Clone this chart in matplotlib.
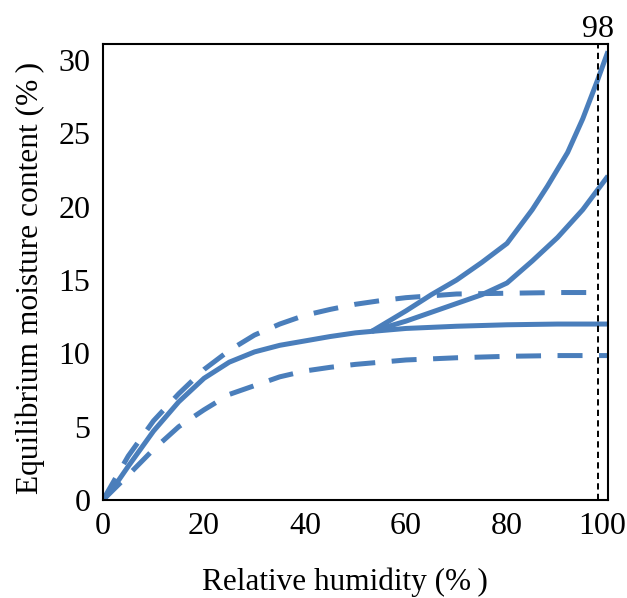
import matplotlib
matplotlib.use("Agg")
import matplotlib.pyplot as plt
import matplotlib.transforms as mtransforms

# Data
rh_mid = [0, 2, 5, 10, 15, 20, 25, 30, 35, 40, 45, 50, 53.2, 60, 70, 80, 90, 100]
emc_mid = [0, 0.8, 2.3, 4.7, 6.7, 8.3, 9.4, 10.1, 10.55, 10.85, 11.15, 11.4, 11.5, 11.7, 11.85, 11.95, 12.0, 12.0]

rh_up_dash = [0, 5, 10, 15, 20, 25, 30, 35, 40, 45, 50, 55, 60, 70, 80, 90, 98]
emc_up_dash = [0, 3.0, 5.4, 7.25, 8.9, 10.2, 11.25, 12.0, 12.6, 13.0, 13.35, 13.6, 13.8, 14.05, 14.1, 14.15, 14.15]

rh_lo_dash = [0, 5, 10, 15, 20, 25, 30, 35, 40, 45, 50, 60, 70, 80, 90, 100]
emc_lo_dash = [0, 1.7, 3.45, 5.0, 6.15, 7.2, 7.8, 8.4, 8.8, 9.05, 9.25, 9.55, 9.7, 9.8, 9.85, 9.85]

rh_rise = [53.2, 60, 65, 70, 75, 80, 85, 88, 92, 95, 98, 100]
emc_rise_high = [11.5, 12.9, 14.0, 15.0, 16.2, 17.5, 19.8, 21.4, 23.7, 26.0, 28.7, 30.6]
rh_rise_low = [53.2, 60, 65, 70, 75, 80, 85, 90, 95, 100]
emc_rise_low = [11.5, 12.2, 12.8, 13.4, 14.0, 14.8, 16.3, 17.9, 19.8, 22.1]

x_ticks = [0, 20, 40, 60, 80, 100]
y_ticks = [0, 5, 10, 15, 20, 25, 30]
marker_rh = 98

plt.rcParams['font.family'] = ['Liberation Serif', 'DejaVu Serif']
color = '#4a7ebb'
lw = 3.6
dash = (5, 3.3)

fig = plt.figure(figsize=(6.27, 5.98), dpi=100)
ax = fig.add_axes([0.1643, 0.1639, 0.9697 - 0.1643, 0.9264 - 0.1639])

ax.plot(rh_mid, emc_mid, color=color, lw=lw, solid_capstyle='butt', solid_joinstyle='round')
ax.plot(rh_rise, emc_rise_high, color=color, lw=lw, solid_capstyle='butt', solid_joinstyle='round')
ax.plot(rh_rise_low, emc_rise_low, color=color, lw=lw, solid_capstyle='butt', solid_joinstyle='round')
ax.plot(rh_up_dash, emc_up_dash, color=color, lw=lw, dashes=dash, dash_capstyle='butt')
ax.plot(rh_lo_dash, emc_lo_dash, color=color, lw=lw, dashes=dash, dash_capstyle='butt')

ax.axvline(marker_rh, color='black', lw=1.4, dashes=(3.2, 2.2))

ax.set_xlim(0, 100)
ax.set_ylim(0, 31.1)
ax.text(marker_rh, 31.1, str(marker_rh), ha='center', va='bottom', fontsize=23)

ax.set_xticks(x_ticks)
ax.set_yticks(y_ticks)
ax.tick_params(length=0, labelsize=23)
ax.tick_params(axis='x', pad=9)
ax.tick_params(axis='y', pad=9)
for s in ax.spines.values():
    s.set_linewidth(1.5)

# shift last x tick label left so it fits inside the figure
last = ax.get_xticklabels()[-1]
last.set_transform(last.get_transform() + mtransforms.ScaledTranslation(-6 / 100, 0, fig.dpi_scale_trans))

ax.set_xlabel('Relative humidity (%\u2009)', fontsize=22.5, labelpad=19)
ax.set_ylabel('Equilibrium moisture content (%\u2009)', fontsize=22.7, labelpad=10)
ax.xaxis.label.set_x(0.479)
ax.yaxis.label.set_y(0.488)

fig.savefig('out.png', dpi=100)
